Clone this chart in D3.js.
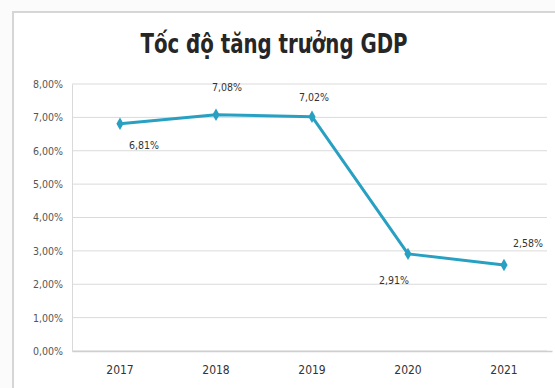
<!DOCTYPE html>
<html><head><meta charset="utf-8">
<script src="https://cdn.jsdelivr.net/npm/d3@7"></script>
<style>
html,body{margin:0;padding:0;background:#fff;}
svg{display:block;}
</style></head>
<body>
<svg id="chart" width="555" height="388"></svg>
<script>
const years = ["2017","2018","2019","2020","2021"];
const growth = [6.81, 7.08, 7.02, 2.91, 2.58];
const valueLabels = ["6,81%","7,08%","7,02%","2,91%","2,58%"];
const yTicks = [0,1,2,3,4,5,6,7,8];
const yTickLabels = ["0,00%","1,00%","2,00%","3,00%","4,00%","5,00%","6,00%","7,00%","8,00%"];
const titleText = "Tốc độ tăng trưởng GDP";

const svg = d3.select("#chart");
const W = 555, H = 388;
const m = {left:72, right:3, top:84, bottom:37};
const FONT = "'DejaVu Sans Condensed', 'DejaVu Sans'";

// card frame
svg.append("rect").attr("x",0).attr("y",0).attr("width",W).attr("height",H).attr("fill","#fbfbfb");
svg.append("rect").attr("x",13).attr("y",12).attr("width",W-13+2).attr("height",H-12+2)
  .attr("fill","#fff").attr("stroke","#d6d6d6").attr("stroke-width",2);

const x = d3.scaleBand().domain(years).range([m.left, W-m.right]);
const y = d3.scaleLinear().domain([0,8]).range([H-m.bottom, m.top]);

// gridlines
svg.append("g").selectAll("line").data(yTicks).join("line")
  .attr("x1", m.left).attr("x2", W-8)
  .attr("y1", d=>y(d)).attr("y2", d=>y(d))
  .attr("stroke","#dadada").attr("stroke-width",1);

// y axis labels
const yAxis = d3.axisLeft(y).tickValues(yTicks).tickSize(0).tickPadding(9)
  .tickFormat((d,i)=>yTickLabels[i]);
const gy = svg.append("g").attr("transform",`translate(${m.left},0)`).call(yAxis);
gy.select(".domain").attr("stroke","#d9d9d9");
gy.selectAll("text").attr("font-family",FONT)
  .attr("font-size",10.5).attr("fill","#555");

// x axis
const xAxis = d3.axisBottom(x).tickSize(0).tickPadding(14);
const gx = svg.append("g").attr("transform",`translate(0,${y(0)})`).call(xAxis);
gx.select(".domain").attr("stroke","#cfcfcf").attr("stroke-width",1.5);
gx.selectAll("text").attr("font-family",FONT)
  .attr("font-size",12).attr("fill","#333");

// line
const cx = (i)=>x(years[i])+x.bandwidth()/2;
const line = d3.line().x((d,i)=>cx(i)).y(d=>y(d));
svg.append("path").datum(growth).attr("d",line)
  .attr("fill","none").attr("stroke","#28a0c2").attr("stroke-width",3).attr("stroke-linejoin","round");

// markers (diamonds)
svg.append("g").selectAll("path").data(growth).join("path")
  .attr("d", d3.symbol().type(d3.symbolDiamond).size(45))
  .attr("transform",(d,i)=>`translate(${cx(i)},${y(d)})`)
  .attr("fill","#28a0c2");

// value labels
const labelOffsets = [[24,25],[11,-24],[2,-16],[-14,30],[24,-18]];
svg.append("g").selectAll("text").data(growth).join("text")
  .attr("x",(d,i)=>cx(i)+labelOffsets[i][0])
  .attr("y",(d,i)=>y(d)+labelOffsets[i][1])
  .attr("text-anchor","middle")
  .attr("font-family",FONT)
  .attr("font-size",10.5).attr("fill","#333")
  .text((d,i)=>valueLabels[i]);

// title
svg.append("text").attr("x",274).attr("y",53).attr("text-anchor","middle")
  .attr("font-family",FONT).attr("font-weight","bold")
  .attr("font-size",27).attr("fill","#262626")
  .attr("textLength",267).attr("lengthAdjust","spacingAndGlyphs").text(titleText);
</script>
</body></html>
